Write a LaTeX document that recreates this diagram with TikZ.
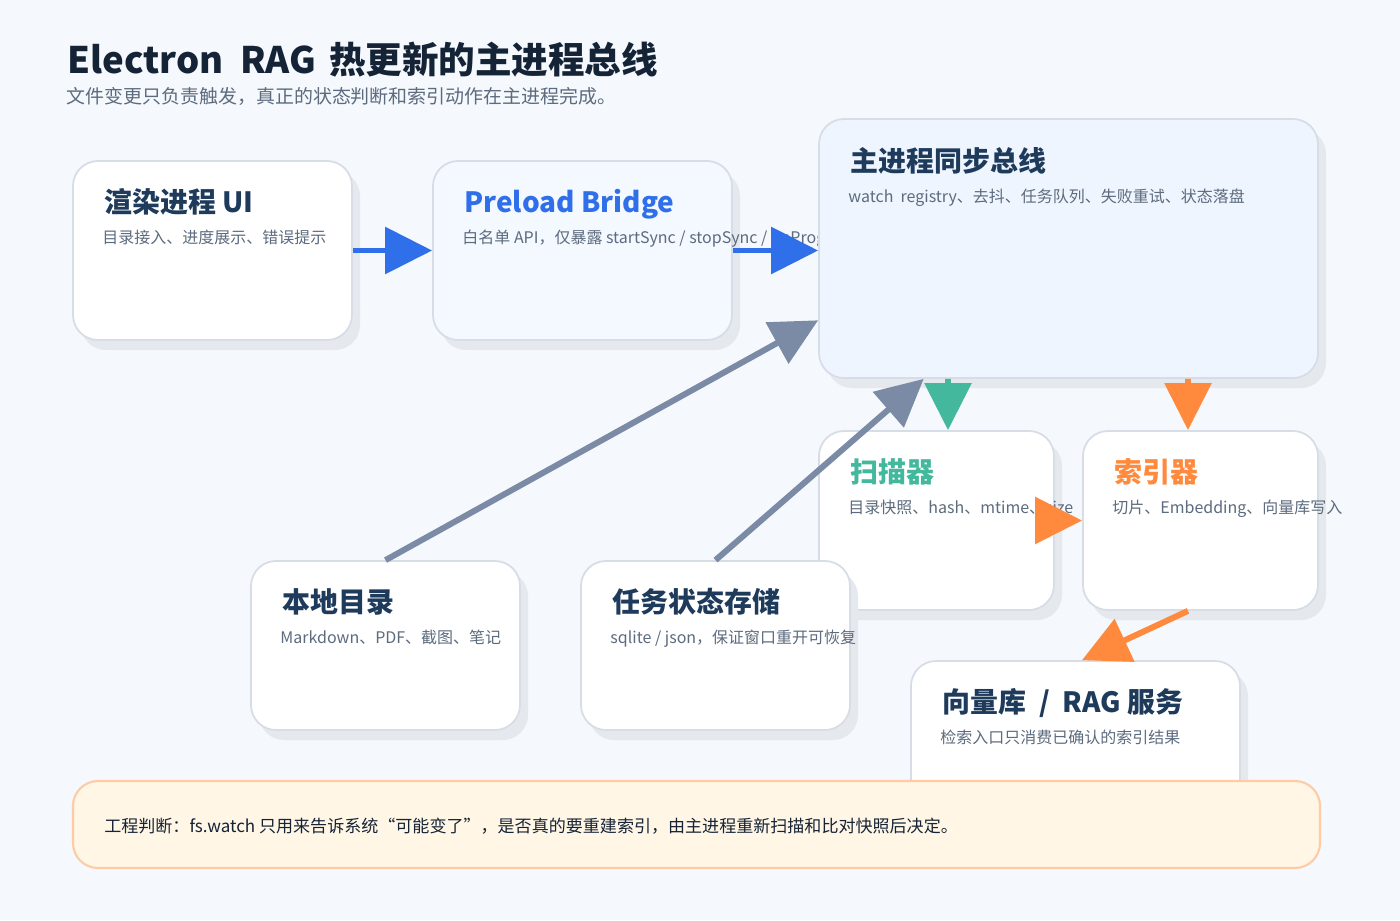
\documentclass[tikz,border=0pt]{standalone}
\usepackage{fontspec}
\setmainfont{Noto Sans CJK SC}
\usetikzlibrary{arrows.meta, calc, positioning, fit, shadows}
\definecolor{grund}{HTML}{F5F8FC}
\definecolor{rand}{HTML}{D6DDE6}
\definecolor{schatten}{HTML}{E5E9EE}
\definecolor{tinte}{HTML}{152336}
\definecolor{navy}{HTML}{1F3B5C}
\definecolor{grau}{HTML}{5C6B7E}
\definecolor{blau}{HTML}{2F6FEA}
\definecolor{blassblau}{HTML}{F4F8FF}
\definecolor{busblau}{HTML}{EEF5FE}
\definecolor{schiefer}{HTML}{7B8BA5}
\definecolor{tuerkis}{HTML}{43B89C}
\definecolor{orange}{HTML}{FF8A3D}
\definecolor{notiz}{HTML}{FFF6E5}
\definecolor{notizrand}{HTML}{FFCBA5}

\begin{document}
\begin{tikzpicture}[x=0.02cm, y=-0.02cm,
    card/.style={draw=rand, line width=1pt, rounded corners=0.5cm, fill=white,
                 inner sep=0pt, drop shadow={shadow xshift=0.16cm,
                 shadow yshift=-0.2cm, fill=schatten, opacity=1}},
    kopf/.style={anchor=base west, inner sep=0pt, text=navy,
                 font=\bfseries\fontsize{15.9}{18}\selectfont},
    info/.style={anchor=base west, inner sep=0pt, text=grau,
                 font=\fontsize{9.1}{11}\selectfont},
    pfeil/.style={line width=3.4pt, -{Triangle[length=0.94cm, width=0.92cm]}}
  ]
  \fill[grund] (0,0) rectangle (1400,920);
  \useasboundingbox (0,0) rectangle (1400,920);

  % Kopfzeile
  \node[anchor=base west, inner sep=0pt, text=tinte,
        font=\bfseries\fontsize{20.8}{24}\selectfont] (titel) at (67,73)
    {Electron~~RAG\hspace{0.35em}热更新的主进程总线};
  \node[anchor=base west, inner sep=0pt, text=grau,
        font=\fontsize{10.8}{13}\selectfont] (untertitel) at (66,103)
    {文件变更只负责触发，真正的状态判断和索引动作在主进程完成。};

  % Karten
  \node[card, fit={(73,161) (352,340)}] (ui) {};
  \node[kopf] (uiK) at ($(ui.north west)+(32,52)$) {渲染进程 UI};
  \node[info] (uiI) at ($(ui.north west)+(30,83)$) {目录接入、进度展示、错误提示};

  \node[card, fill=blassblau, fit={(433,161) (732,340)}] (preload) {};
  \node[kopf, text=blau] (preloadK) at ($(preload.north west)+(32,52)$) {Preload Bridge};
  \node[info] (preloadI) at ($(preload.north west)+(30,83)$)
    {白名单 API，仅暴露 startSync~/~stopSync~/~onProgress};

  \node[card, fill=busblau, fit={(819,119) (1318,378)}] (bus) {};
  \node[kopf] (busK) at ($(bus.north west)+(32,53)$) {主进程同步总线};
  \node[info] (busI) at ($(bus.north west)+(30,84)$)
    {watch~~registry、去抖、任务队列、失败重试、状态落盘};

  \node[card, fit={(819,431) (1054,610)}] (scanner) {};
  \node[kopf, text=tuerkis] (scannerK) at ($(scanner.north west)+(32,52)$) {扫描器};
  \node[info] (scannerI) at ($(scanner.north west)+(30,83)$) {目录快照、hash、mtime、size};

  \node[card, fit={(1083,431) (1318,610)}] (indexer) {};
  \node[kopf, text=orange] (indexerK) at ($(indexer.north west)+(32,52)$) {索引器};
  \node[info] (indexerI) at ($(indexer.north west)+(30,83)$) {切片、Embedding、向量库写入};

  \node[card, fit={(251,561) (520,730)}] (lokal) {};
  \node[kopf] (lokalK) at ($(lokal.north west)+(32,52)$) {本地目录};
  \node[info] (lokalI) at ($(lokal.north west)+(30,83)$) {Markdown、PDF、截图、笔记};

  \node[card, fit={(581,561) (850,730)}] (speicher) {};
  \node[kopf] (speicherK) at ($(speicher.north west)+(32,52)$) {任务状态存储};
  \node[info] (speicherI) at ($(speicher.north west)+(30,83)$)
    {sqlite~/~json，保证窗口重开可恢复};

  \node[card, fit={(911,661) (1240,840)}] (vektor) {};
  \node[kopf] (vektorK) at ($(vektor.north west)+(32,52)$) {向量库~~/~~RAG 服务};
  \node[info] (vektorI) at ($(vektor.north west)+(30,83)$) {检索入口只消费已确认的索引结果};

  % Hinweis unten
  \node[draw=notizrand, fill=notiz, line width=1.2pt, rounded corners=0.5cm,
        inner sep=0pt, fit={(73,781) (1320,868)}] (hinweis) {};
  \node[anchor=base west, inner sep=0pt, text=tinte,
        font=\fontsize{9.7}{12}\selectfont] (hinweisT) at ($(hinweis.west)+(32,8)$)
    {工程判断：fs.watch 只用来告诉系统“可能变了”，是否真的要重建索引，由主进程重新扫描和比对快照后决定。};

  % Pfeile
  \draw[pfeil, blau] (ui.east) -- (preload.west);
  \draw[pfeil, blau] (preload.east) -- (preload.east -| bus.west);
  \draw[pfeil, schiefer] (lokal.north) -- (bus.196.4);
  \draw[pfeil, schiefer] (speicher.north) -- (bus.222.9);
  \draw[pfeil, tuerkis] ($(bus.south)+(-120.5,0)$) -- ($(scanner.north)+(11.5,0)$);
  \draw[pfeil, orange] ($(bus.south)+(119.5,0)$) -- ($(indexer.north)+(-12.5,0)$);
  \draw[pfeil, orange] (scanner.east) -- (indexer.west);
  \draw[pfeil, orange] ($(indexer.south)+(-12.5,0)$) -- ($(vektor.north)+(6.5,0)$);
\end{tikzpicture}
\end{document}
